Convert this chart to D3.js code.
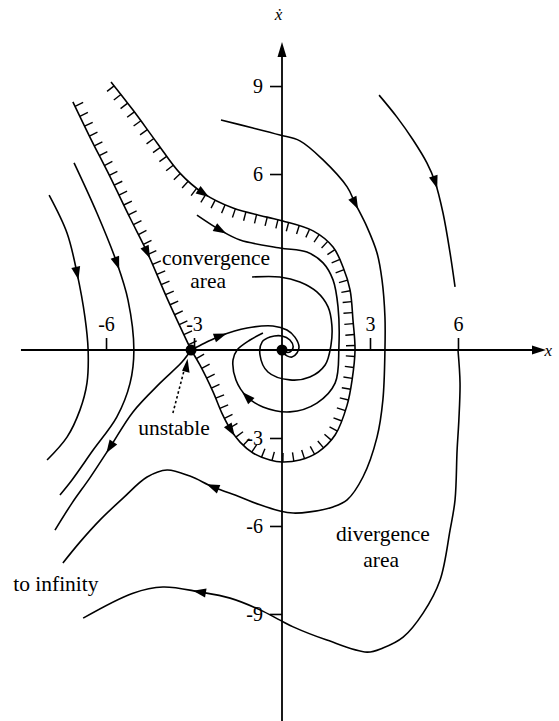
<!DOCTYPE html>
<html>
<head>
<meta charset="utf-8">
<script src="https://cdn.jsdelivr.net/npm/d3@7"></script>
<style>
  body { margin: 0; background: #fff; }
  text { font-family: "Liberation Serif", "Times New Roman", serif; fill: #000; }
</style>
</head>
<body>
<div id="phase"></div>
<script>
var w = 559;
var h = 721;

// tick values on the two axes
var xTicks = [-6, -3, 3, 6];
var yTicks = [9, 6, -3, -6, -9];

// equilibrium points (x, xdot): saddle and focus
var equilibria = [[-3.1, 0], [0, 0]];

// trajectories as (x, xdot) pairs
var leftCurveA = [[-7.94,5.28],[-7.33,3.99],[-6.99,2.63],[-6.72,1.13],[-6.61,0],[-6.65,-1.13],[-6.89,-2.05],[-7.33,-2.97],[-8.01,-3.75]];
var leftCurveB = [[-7.09,6.38],[-6.31,4.67],[-5.63,2.97],[-5.25,1.70],[-5.05,0],[-5.18,-1.13],[-5.63,-2.28],[-6.44,-3.41],[-7.16,-4.43],[-7.57,-4.94]];
var separatrix = [[-7.13,8.46],[-6.55,7.26],[-5.86,5.90],[-5.18,4.50],[-4.60,3.34],[-3.89,1.70],[-3.10,0]];
var boundary = [[-5.83,9.14],[-5.08,8.18],[-4.26,7.06],[-3.48,6.03],[-2.69,5.35],[-1.67,4.84],[-0.51,4.53],[0.03,4.40],[1.06,4.06],[1.74,3.51],[2.08,2.83],[2.32,2.05],[2.42,1.02],[2.49,0],[2.39,-1.02],[2.22,-1.88],[1.81,-2.90],[1.23,-3.48],[0.61,-3.75],[0,-3.82],[-0.41,-3.75],[-0.99,-3.51],[-1.43,-3.14],[-1.74,-2.73],[-2.05,-2.15],[-2.35,-1.43],[-2.80,-0.51],[-3.10,0]];
var innerSpiral = [[-2.90,4.60],[-2.11,4.09],[-1.43,3.75],[-0.07,3.48],[0.85,3.34],[1.40,2.97],[1.74,2.39],[1.91,1.47],[1.94,0.10],[1.81,-1.13],[1.19,-1.81],[0.27,-2.11],[-0.65,-1.94],[-1.19,-1.60],[-1.57,-1.02],[-1.67,-0.34],[-1.53,0],[-1.09,0.34],[-0.65,0.58]];
var pointerSpiral = [[-1.02,2.49],[-0.07,2.49],[0.61,2.32],[1.19,1.98],[1.57,1.47],[1.70,0.85],[1.67,0.17],[1.47,-0.51],[0.95,-0.92],[0.27,-1.02],[-0.48,-0.75],[-0.75,-0.17],[-0.68,0.27],[-0.41,0.44],[0,0.48],[0.27,0.34],[0.38,0.10],[0.27,-0.07],[0.10,-0.07]];
var saddleRight = [[-3.10,0],[-2.63,0.24],[-2.11,0.48],[-1.19,0.75],[-0.31,0.82],[0.17,0.68],[0.44,0.44],[0.58,0.10],[0.51,-0.10],[0.34,-0.24],[0.17,-0.20],[0.03,-0.10]];
var saddleLeft = [[-3.10,0],[-3.41,-0.41],[-4.16,-1.13],[-5.08,-2.11],[-5.86,-3.31],[-6.55,-4.36],[-7.16,-5.22],[-7.74,-6.14]];
var outerCurve = [[-2.08,7.84],[-0.99,7.57],[-0.07,7.33],[0.61,7.13],[1.40,6.48],[2.22,5.56],[2.49,5.01],[2.90,4.19],[3.24,3.31],[3.41,2.39],[3.51,1.13],[3.51,0],[3.44,-1.70],[3.24,-2.97],[2.76,-4.33],[2.22,-5.11],[1.74,-5.35],[0.95,-5.52],[0.38,-5.56],[-0.07,-5.49],[-0.75,-5.28],[-1.43,-5.01],[-2.35,-4.67],[-3.14,-4.30],[-3.92,-4.09],[-4.60,-4.33],[-5.42,-5.05],[-6.21,-5.80],[-6.89,-6.55],[-7.47,-7.26]];
var rightCurve = [[3.31,8.69],[3.92,7.94],[4.47,7.16],[4.94,6.38],[5.22,5.73],[5.49,4.67],[5.73,3.31],[5.90,2.15]];
var lowerCurve = [[6.00,0],[6.07,-1.13],[6.03,-2.39],[5.97,-3.41],[5.90,-5.11],[5.73,-6.14],[5.39,-7.84],[4.81,-8.97],[4.13,-9.79],[3.44,-10.16],[2.90,-10.30],[1.53,-9.89],[0.38,-9.44],[-0.07,-9.21],[-0.75,-8.86],[-1.77,-8.46],[-2.80,-8.25],[-4.06,-8.08],[-5.08,-8.29],[-6.78,-9.14]];

// which curves carry hatching, and where the arrowheads sit (point index, +1 along / -1 against)
var hatched = [{pts: separatrix, side: -1}, {pts: boundary, side: 1}];
var plain = [leftCurveA, leftCurveB, innerSpiral, pointerSpiral, saddleRight, saddleLeft, outerCurve, rightCurve, lowerCurve];
var arrows = [
  [leftCurveA, 2, 1], [leftCurveB, 2, 1], [separatrix, 4, 1],
  [boundary, 4, 1], [boundary, 23, -1],
  [innerSpiral, 1, 1], [innerSpiral, 13, 1], [saddleRight, 2, 1],
  [saddleLeft, 4, 1], [outerCurve, 6, 1], [outerCurve, 22, 1],
  [rightCurve, 4, 1], [lowerCurve, 16, 1]
];

var svg = d3.select("#phase")
    .append("svg")
    .attr("width", w)
    .attr("height", h);

var ox = 282, oy = 350, unit = 29.33;
var x = d3.scaleLinear().domain([-9, 9]).range([ox - 9 * unit, ox + 9 * unit]),
    y = d3.scaleLinear().domain([-9, 9]).range([oy + 9 * unit, oy - 9 * unit]);

var fmt = function(d) { return d < 0 ? "-" + (-d) : String(d); };

// x axis, ticks upward
var gx = svg.append("g")
    .attr("transform", "translate(0," + y(0) + ")")
    .call(d3.axisTop(x).tickValues(xTicks).tickSize(12).tickPadding(7).tickFormat(fmt));
gx.select(".domain").remove();

// y axis, ticks to the left
var gy = svg.append("g")
    .attr("transform", "translate(" + x(0) + ",0)")
    .call(d3.axisLeft(y).tickValues(yTicks).tickSize(12).tickPadding(7).tickFormat(fmt));
gy.select(".domain").remove();

svg.selectAll(".tick line").attr("stroke", "#000").attr("stroke-width", 1.6);
svg.selectAll(".tick text")
    .attr("font-family", "Liberation Serif, serif")
    .attr("font-size", 20);

// axis lines with arrowheads
svg.append("line")
    .attr("x1", x(-8.9)).attr("x2", x(8.6))
    .attr("y1", y(0)).attr("y2", y(0))
    .attr("stroke", "#000").attr("stroke-width", 1.8);
svg.append("path")
    .attr("d", "M" + x(9.0) + "," + y(0) + "l-14,-4.5l0,9z")
    .attr("fill", "#000");
svg.append("line")
    .attr("x1", x(0)).attr("x2", x(0))
    .attr("y1", y(-12.7)).attr("y2", y(10.0))
    .attr("stroke", "#000").attr("stroke-width", 1.8);
svg.append("path")
    .attr("d", "M" + x(0) + "," + y(10.5) + "l-4.5,15l9,0z")
    .attr("fill", "#000");

svg.append("text")
    .attr("x", x(8.95)).attr("y", y(-0.2))
    .attr("font-size", 17).attr("font-style", "italic")
    .text("x");
svg.append("text")
    .attr("x", x(-0.12)).attr("y", y(11.25))
    .attr("text-anchor", "middle")
    .attr("font-size", 17).attr("font-style", "italic")
    .text("ẋ");

var line = d3.line()
    .x(function(d) { return x(d[0]); })
    .y(function(d) { return y(d[1]); })
    .curve(d3.curveCatmullRom.alpha(0.5));

var curves = svg.append("g")
    .attr("fill", "none")
    .attr("stroke", "#000")
    .attr("stroke-width", 1.6);

curves.selectAll(".traj")
    .data(plain)
    .enter().append("path")
      .attr("class", "traj")
      .attr("d", line);

// hatched boundaries of the convergence area
hatched.forEach(function(hc) {
  var p = curves.append("path").attr("d", line(hc.pts));
  var node = p.node(), len = node.getTotalLength();
  for (var s = 5; s < len - 4; s += 11) {
    var a = node.getPointAtLength(s), b = node.getPointAtLength(s + 0.8);
    var tx = b.x - a.x, ty = b.y - a.y, n = Math.sqrt(tx * tx + ty * ty);
    tx /= n; ty /= n;
    var nx = -ty * hc.side, ny = tx * hc.side;
    curves.append("line")
        .attr("x1", a.x).attr("y1", a.y)
        .attr("x2", a.x + nx * 9).attr("y2", a.y + ny * 9)
        .attr("stroke-width", 1.4);
  }
});

// arrowheads on the trajectories
arrows.forEach(function(ar) {
  var pts = ar[0], i = ar[1];
  var p0 = pts[Math.max(i - 1, 0)], p1 = pts[Math.min(i + 1, pts.length - 1)];
  var dx = (x(p1[0]) - x(p0[0])) * ar[2], dy = (y(p1[1]) - y(p0[1])) * ar[2];
  var n = Math.sqrt(dx * dx + dy * dy);
  dx /= n; dy /= n;
  var cx = x(pts[i][0]), cy = y(pts[i][1]);
  var tip = [cx + dx * 7, cy + dy * 7],
      bl = [cx - dx * 6 - dy * 4.5, cy - dy * 6 + dx * 4.5],
      br = [cx - dx * 6 + dy * 4.5, cy - dy * 6 - dx * 4.5];
  svg.append("path")
      .attr("d", "M" + tip + "L" + bl + "L" + br + "Z")
      .attr("fill", "#000");
});

// equilibria
svg.selectAll(".eq")
    .data(equilibria)
    .enter().append("circle")
      .attr("class", "eq")
      .attr("cx", function(d) { return x(d[0]); })
      .attr("cy", function(d) { return y(d[1]); })
      .attr("r", 5.5)
      .attr("fill", "#000");

// dotted pointer to the saddle
svg.append("line")
    .attr("x1", x(-3.72)).attr("y1", y(-2.15))
    .attr("x2", x(-3.30)).attr("y2", y(-0.55))
    .attr("stroke", "#000").attr("stroke-width", 1.6)
    .attr("stroke-dasharray", "2.5,2.5");
svg.append("path")
    .attr("d", "M" + x(-3.22) + "," + y(-0.30) + "l-5.5,12l7.5,2z")
    .attr("fill", "#000");

// annotations
var notes = svg.append("g").attr("font-size", 21.5).attr("text-anchor", "middle");
notes.append("text").attr("x", x(-2.25)).attr("y", y(2.90)).text("convergence");
notes.append("text").attr("x", x(-2.52)).attr("y", y(2.11)).text("area");
notes.append("text").attr("x", x(-3.68)).attr("y", y(-2.90)).text("unstable");
notes.append("text").attr("x", x(3.44)).attr("y", y(-6.51)).text("divergence");
notes.append("text").attr("x", x(3.38)).attr("y", y(-7.40)).text("area");
notes.append("text").attr("x", x(-7.71)).attr("y", y(-8.22)).text("to infinity");
</script>
</body>
</html>
